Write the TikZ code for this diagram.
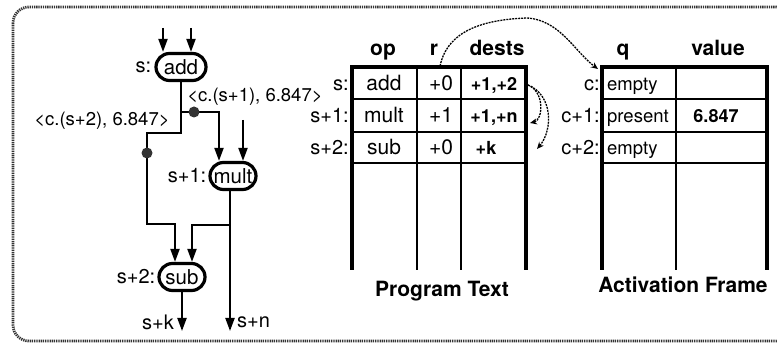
\documentclass[tikz,border=0pt]{standalone}
\usepackage{fontspec}
\setmainfont{TeX Gyre Heros}
\usetikzlibrary{arrows.meta,shapes.misc}

\tikzset{
  pill/.style={draw, line width=3.2pt, rounded rectangle, minimum height=27pt,
    inner xsep=2pt, inner ysep=0pt, font=\fontsize{20.5}{22}\selectfont},
  lbl/.style={inner sep=0pt, font=\fontsize{20}{22}\selectfont},
  elbl/.style={inner sep=0pt, font=\fontsize{18.5}{20}\selectfont},
  wire/.style={line width=2.1pt},
  arr/.style={wire, -{Triangle[length=13pt,width=9pt]}},
  tap/.style={circle, fill=black!80, inner sep=0pt, minimum size=11pt},
  frameline/.style={line width=4pt},
  gridline/.style={line width=2.1pt},
  cell/.style={inner sep=0pt, anchor=base, font=\fontsize{21}{24}\selectfont},
  dcell/.style={inner sep=0pt, anchor=base, font=\bfseries\fontsize{18}{20}\selectfont},
  qcell/.style={inner sep=0pt, anchor=base west, font=\fontsize{18.5}{20}\selectfont},
  rowlbl/.style={inner sep=0pt, anchor=base east, font=\fontsize{20}{22}\selectfont},
  head/.style={inner sep=0pt, anchor=base, font=\bfseries\fontsize{21}{24}\selectfont},
  link/.style={line width=1.3pt, dash pattern=on 2pt off 1pt, -{Stealth[length=7pt,width=6pt]}},
  rope/.style={line width=2.8pt, draw=black!80, dash pattern=on 1.3pt off 0.9pt},
}

\begin{document}
\begin{tikzpicture}[x=1pt,y=-1pt]
\clip (0,0) rectangle (777,344);

% outer rounded frame
\draw[rope, rounded corners=16pt] (13,7) rectangle (792,341);

% ---------------- dataflow graph ----------------
\node[pill, minimum width=54pt] (add) at (181,67) {add};
\node[lbl, anchor=east] (addl) at ([xshift=-3pt]add.west) {s:};
\node[pill, minimum width=50pt] (mult) at (233,176) {mult};
\node[lbl, anchor=east] (multl) at ([xshift=-2pt]mult.west) {s+1:};
\node[pill, minimum width=50pt] (sub) at (182,277) {sub};
\node[lbl, anchor=east] (subl) at ([xshift=-2pt]sub.west) {s+2:};

% inputs of add
\coordinate (a1) at (163,28);
\coordinate (a2) at (191,28);
\draw[arr] (a1) -- (a1 |- add.north);
\draw[arr] (a2) -- (a2 |- add.north);

% outputs of add
\coordinate (j1) at (181,112);
\coordinate (j2) at (219,112);
\draw[arr] (add.south) -- (j1) -- (j2) -- (j2 |- mult.north);
\coordinate (j3) at (181,133);
\coordinate (j4) at (147,133);
\coordinate (j5) at (147,224);
\coordinate (j6) at (175,224);
\draw[arr] (j1) -- (j3) -- (j4) -- (j5) -- (j6) -- (j6 |- sub.north);
\node[tap] (t1) at (194,112) {};
\node[tap] (t2) at (147,153) {};

% second input of mult
\coordinate (m2) at (243,120);
\draw[arr] (m2) -- (m2 |- mult.north);

% outputs of mult
\coordinate (mo) at (230,225);
\coordinate (mo2) at (192,225);
\coordinate (nout) at (230,331);
\draw[arr] (mo |- mult.south) -- (nout);
\draw[arr] (mo) -- (mo2) -- (mo2 |- sub.north);

% output of sub
\coordinate (kout) at (182,331);
\draw[arr] (sub.south) -- (kout);

% token labels
\node[elbl] (tok2) at (102,121) {<c.(s+2), 6.847>};
\node[elbl] (tok1) at (255,97) {<c.(s+1), 6.847>};
\node[lbl, anchor=east] (sk) at (174,322) {s+k};
\node[lbl, anchor=west] (sn) at (237,322) {s+n};

% ---------------- program text ----------------
\draw[gridline] (352,99) -- (526,99) (352,132) -- (526,132) (352,163) -- (526,163)
                (417,67) -- (417,270) (461,67) -- (461,270);
\draw[frameline] (352,270) -- (352,67) -- (526,67) -- (526,270);

\node[head] at (383,56) {op};
\node[head] at (434,56) {r};
\node[head] at (497,56) {dests};

\node[rowlbl] at (349,91) {s:};
\node[rowlbl] at (349,123) {s+1:};
\node[rowlbl] at (349,155) {s+2:};

\node[cell] at (384,91) {add};
\node[cell] at (384,123) {mult};
\node[cell] at (384,155) {sub};
\node[cell] at (441,91) {+0};
\node[cell] at (441,123) {+1};
\node[cell] at (441,155) {+0};
\node[dcell] at (494,91) {+1,+2};
\node[dcell] at (494,123) {+1,+n};
\node[dcell] at (486,155) {+k};

\node[head] at (442,297) {Program Text};

% ---------------- activation frame ----------------
\draw[gridline] (602,99) -- (767,99) (602,132) -- (767,132) (602,163) -- (767,163)
                (676,67) -- (676,270);
\draw[frameline] (602,270) -- (602,67) -- (767,67) -- (767,270);

\node[head] at (623,56) {q};
\node[head] at (718,56) {value};

\node[rowlbl] at (600,91) {c:};
\node[rowlbl] at (600,123) {c+1:};
\node[rowlbl] at (600,155) {c+2:};

\node[qcell] at (607,91) {empty};
\node[qcell] at (607,123) {present};
\node[qcell] at (607,155) {empty};
\node[dcell] at (716,123) {6.847};

\node[head] at (683,293) {Activation Frame};

% ---------------- pointer links ----------------
\coordinate (rtop) at (440,66);
\coordinate (fc) at (598,69);
\draw[link] (rtop) .. controls (446,38) and (470,20) .. (527,18)
            .. controls (560,20) and (575,52) .. (fc);
\coordinate (d0) at (528,85);
\coordinate (d1) at (530,123);
\coordinate (d2) at (537,149);
\draw[link] (d0) .. controls (545,92) and (543,120) .. (d1);
\draw[link] (d0) .. controls (553,95) and (553,130) .. (d2);
\end{tikzpicture}
\end{document}
